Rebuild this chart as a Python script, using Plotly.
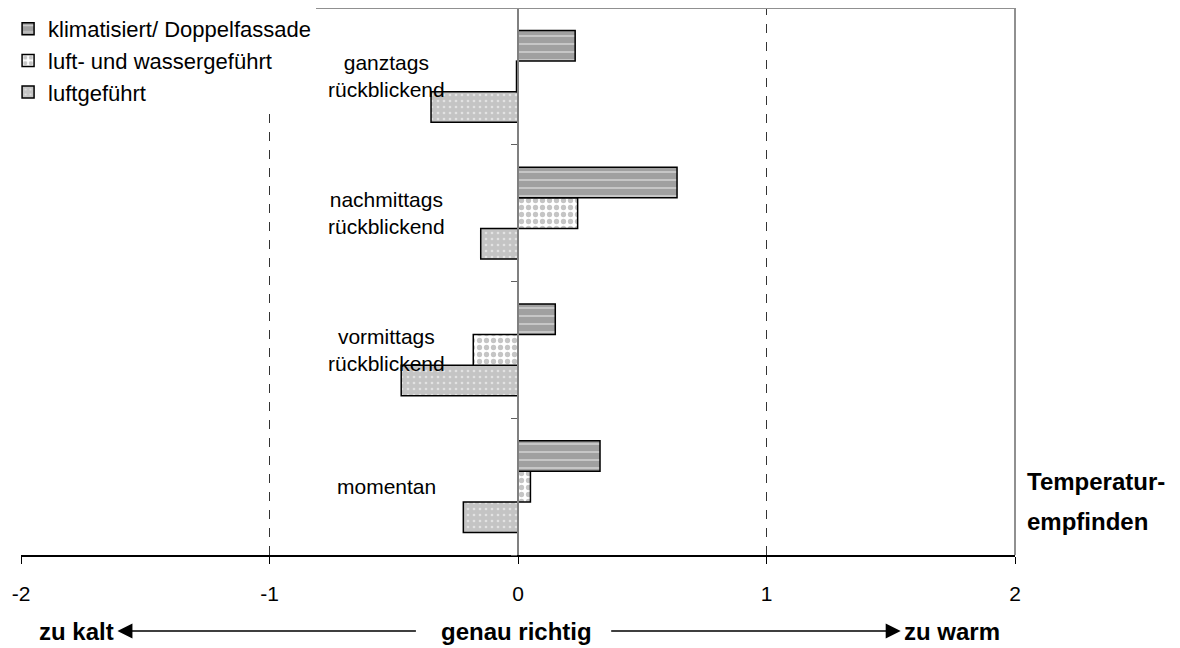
import plotly.graph_objects as go

categories = ["momentan", "vormittags<br>rückblickend", "nachmittags<br>rückblickend", "ganztags<br>rückblickend"]
series_names = ["luftgeführt", "luft- und wassergeführt", "klimatisiert/ Doppelfassade"]
luftgefuehrt = [-0.22, -0.47, -0.15, -0.35]
luft_wasser = [0.05, -0.18, 0.24, -0.006]
klimatisiert = [0.33, 0.15, 0.64, 0.23]
x_ticks = [-2, -1, 0, 1, 2]

FONT = "Liberation Sans, Arial, sans-serif"

styles = [
    dict(color="#c4c4c4", pattern=dict(shape=".", fgcolor="#ffffff", size=6, solidity=0.15, fillmode="overlay")),
    dict(color="#ffffff", pattern=dict(shape=".", fgcolor="#8c8c8c", size=7, solidity=0.45, fillmode="overlay")),
    dict(color="#a0a0a0", pattern=dict(shape="-", fgcolor="#ffffff", size=8, solidity=0.2, fillmode="overlay")),
]

fig = go.Figure()
for name, vals, st in zip(series_names, [luftgefuehrt, luft_wasser, klimatisiert], styles):
    fig.add_trace(go.Bar(
        y=categories, x=vals, name=name, orientation="h",
        marker=dict(color=st["color"], pattern=st["pattern"], line=dict(color="black", width=1.5)),
    ))

# category labels inside the plot
for c in categories:
    fig.add_annotation(x=-0.53, y=c, xref="x", yref="y", text=c, showarrow=False,
                       font=dict(family=FONT, size=21, color="black"), align="center",
                       yanchor="middle")

# dashed gridlines at -1 and 1
for xv in [-1, 1]:
    fig.add_shape(type="line", xref="x", yref="paper", x0=xv, x1=xv, y0=0, y1=1,
                  line=dict(color="#333333", width=1, dash="dash"), layer="below")
# top and right border
fig.add_shape(type="line", xref="paper", yref="paper", x0=0, x1=1, y0=1, y1=1,
              line=dict(color="#909090", width=2))
fig.add_shape(type="line", xref="paper", yref="paper", x0=1, x1=1, y0=0, y1=1,
              line=dict(color="#909090", width=2))

bold = dict(family=FONT, size=24, color="black")
yb = -0.139
fig.add_annotation(x=-1.612, y=yb, xref="x", yref="paper", ax=300, ay=0, axref="pixel", ayref="pixel",
                   showarrow=True, arrowhead=2, arrowsize=2, arrowwidth=1.5, arrowcolor="black", text="")
fig.add_annotation(x=1.54, y=yb, xref="x", yref="paper", ax=-291, ay=0, axref="pixel", ayref="pixel",
                   showarrow=True, arrowhead=2, arrowsize=2, arrowwidth=1.5, arrowcolor="black", text="")
fig.add_annotation(x=-1.617, y=yb, xref="x", yref="paper", text="<b>zu kalt</b>", showarrow=False,
                   xanchor="right", yanchor="middle", font=bold)
fig.add_annotation(x=-0.005, y=yb, xref="x", yref="paper", text="<b>genau richtig</b>", showarrow=False,
                   xanchor="center", yanchor="middle", font=bold)
fig.add_annotation(x=1.545, y=yb, xref="x", yref="paper", text="<b>zu warm</b>", showarrow=False,
                   xanchor="left", yanchor="middle", font=bold)
fig.add_annotation(x=1.010, y=0.135, xref="paper", yref="paper", text="<b>Temperatur-</b>", showarrow=False,
                   xanchor="left", yanchor="middle", font=bold)
fig.add_annotation(x=1.010, y=0.062, xref="paper", yref="paper", text="<b>empfinden</b>", showarrow=False,
                   xanchor="left", yanchor="middle", font=bold)

fig.update_layout(
    width=1180, height=648,
    margin=dict(l=9, r=173, t=0, b=101, pad=0),
    paper_bgcolor="white", plot_bgcolor="white",
    barmode="group", bargap=0.33, bargroupgap=0,
    font=dict(family=FONT, size=21, color="black"),
    showlegend=True,
    legend=dict(x=-0.013, y=1.0, xanchor="left", yanchor="top", traceorder="reversed",
                bgcolor="white", font=dict(family=FONT, size=22, color="black"),
                itemwidth=30, tracegroupgap=0),
    xaxis=dict(range=[-2, 2], tickvals=x_ticks, ticktext=[str(v) for v in x_ticks],
               showgrid=False, zeroline=False, showline=True, linecolor="black", linewidth=1.5,
               ticks="outside", ticklen=7, tickcolor="black", tickfont=dict(family=FONT, size=21),
               ticklabelstandoff=12, ticklabeloverflow="allow"),
    yaxis=dict(categoryorder="array", categoryarray=categories, range=[-0.5, 3.5],
               anchor="free", position=0.5, showline=True, linecolor="#808080", linewidth=2,
               ticks="outside", tickson="boundaries", ticklen=6, tickcolor="#606060",
               showticklabels=False, showgrid=False, zeroline=False),
)

fig.write_html("out.html")
